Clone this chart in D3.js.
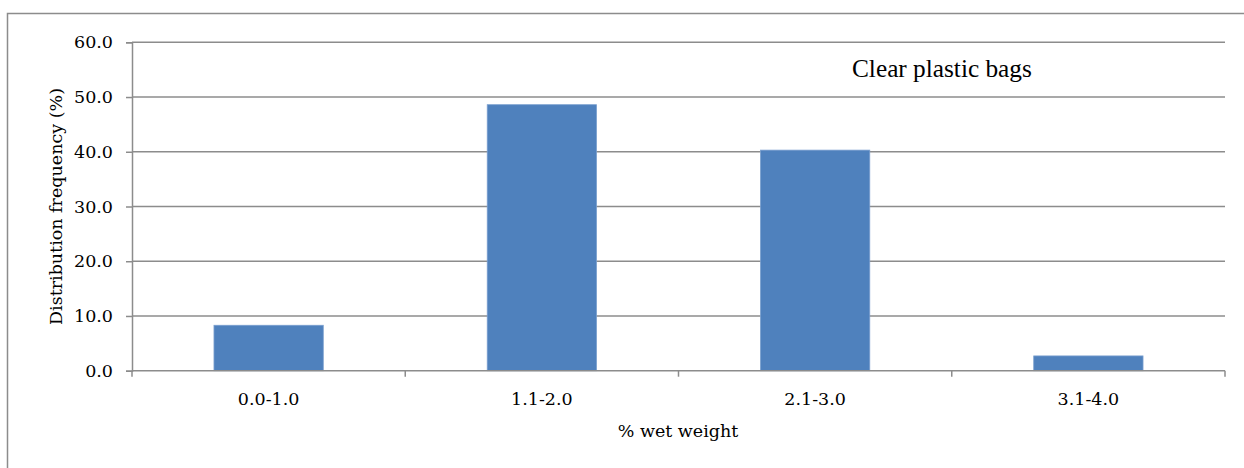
<!DOCTYPE html>
<html>
<head>
<meta charset="utf-8">
<script src="https://cdn.jsdelivr.net/npm/d3@7"></script>
<style>
  html, body { margin: 0; padding: 0; background: #fff; }
  svg { display: block; }
</style>
</head>
<body>
<svg id="chart" width="1244" height="468"></svg>
<script>
const categories = ["0.0-1.0", "1.1-2.0", "2.1-3.0", "3.1-4.0"];
const values = [8.3, 48.6, 40.3, 2.7];
const yTicks = [0, 10, 20, 30, 40, 50, 60];
const xTitle = "% wet weight";
const yTitle = "Distribution frequency (%)";
const note = "Clear plastic bags";

const W = 1244, H = 468;
const m = { left: 132, right: 19, top: 42.3, bottom: 97.3 };
const svg = d3.select("#chart");
const gray = "#8c8c8c";
const tickFont = "'DejaVu Serif', serif";
const fs = 17.5;

// outer border
svg.append("path")
  .attr("d", `M7.5,${H} L7.5,13.5 L${W},13.5`)
  .attr("fill", "none").attr("stroke", gray).attr("stroke-width", 1.5);

const x = d3.scaleBand().domain(categories)
  .range([m.left, W - m.right]).paddingInner(0.6).paddingOuter(0.3);
const xOuter = d3.scaleBand().domain(categories).range([m.left, W - m.right]);
const y = d3.scaleLinear().domain([0, 60]).range([H - m.bottom, m.top]);

// gridlines
svg.append("g").selectAll("line").data(yTicks.slice(1)).join("line")
  .attr("x1", m.left).attr("x2", W - m.right)
  .attr("y1", d => y(d)).attr("y2", d => y(d))
  .attr("stroke", gray).attr("stroke-width", 1.5);

// bars
svg.append("g").selectAll("rect").data(values).join("rect")
  .attr("x", (d, i) => x(categories[i]))
  .attr("width", x.bandwidth())
  .attr("y", d => y(d))
  .attr("height", d => y(0) - y(d))
  .attr("fill", "#4f81bd")
  .attr("stroke", "#7a9fcf").attr("stroke-width", 0.8);

// y axis
const yAxis = d3.axisLeft(y).tickValues(yTicks).tickFormat(d3.format(".1f"))
  .tickSize(6).tickPadding(13);
const gy = svg.append("g").attr("transform", `translate(${m.left},0)`).call(yAxis);
gy.select(".domain").attr("stroke", gray).attr("stroke-width", 1.5);
gy.selectAll(".tick line").attr("stroke", gray).attr("stroke-width", 1.5);
gy.selectAll("text").attr("font-family", tickFont).attr("font-size", fs)
  .attr("fill", "#000");

// x axis
const gx = svg.append("g").attr("transform", `translate(0,${y(0)})`);
gx.append("line").attr("x1", m.left).attr("x2", W - m.right)
  .attr("y1", 0).attr("y2", 0).attr("stroke", gray).attr("stroke-width", 1.5);
const bounds = categories.map(c => xOuter(c)).concat([W - m.right]);
gx.selectAll("line.tk").data(bounds).join("line").attr("class", "tk")
  .attr("x1", d => d).attr("x2", d => d).attr("y1", 0).attr("y2", 6)
  .attr("stroke", gray).attr("stroke-width", 1.5);
gx.selectAll("text").data(categories).join("text")
  .attr("x", d => xOuter(d) + xOuter.bandwidth() / 2)
  .attr("y", 34)
  .attr("text-anchor", "middle")
  .attr("font-family", tickFont).attr("font-size", fs)
  .text(d => d);

// axis titles
svg.append("text").attr("x", 678).attr("y", 437)
  .attr("text-anchor", "middle").attr("font-family", tickFont).attr("font-size", fs)
  .text(xTitle);
svg.append("text")
  .attr("transform", `translate(62,${(y(0) + y(60)) / 2}) rotate(-90)`)
  .attr("text-anchor", "middle").attr("font-family", tickFont).attr("font-size", fs)
  .text(yTitle);

// annotation
svg.append("text").attr("x", 852).attr("y", 77)
  .attr("font-family", "'Liberation Serif', 'Times New Roman', serif")
  .attr("font-size", 25.3).text(note);
</script>
</body>
</html>
